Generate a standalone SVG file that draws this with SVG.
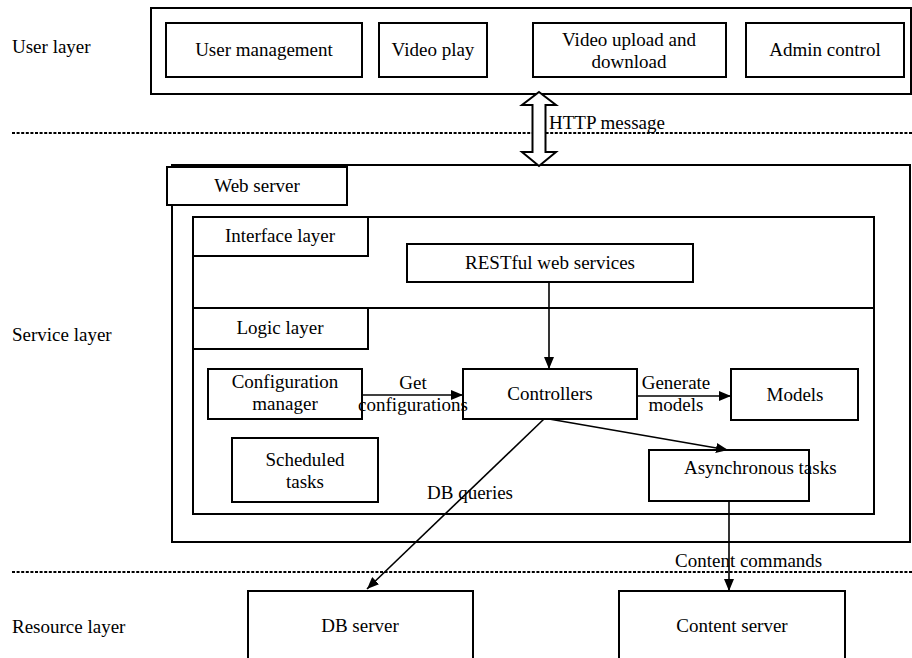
<svg xmlns="http://www.w3.org/2000/svg" width="912" height="658" viewBox="0 0 912 658" font-family="'Liberation Serif', 'Times New Roman', Times, 'DejaVu Serif', serif" font-size="19">
<defs>
<style>
text{font-family:'Liberation Serif','Times New Roman',Times,'DejaVu Serif',serif;font-size:19px;fill:#000}
.c{text-anchor:middle}
.box{fill:#fff;stroke:#000;stroke-width:2}
.ln{fill:none;stroke:#000;stroke-width:1.6}
.dot{stroke:#000;stroke-width:2.2;stroke-dasharray:3,1.6}
</style>
<marker id="ah" viewBox="0 0 12 10" refX="12" refY="5" markerWidth="12" markerHeight="10" markerUnits="userSpaceOnUse" orient="auto">
<path d="M0,0 L12,5 L0,10 Z" fill="#000"/>
</marker>
</defs>
<rect width="912" height="658" fill="#fff"/>

<g id="labels">
<text x="12" y="53">User layer</text>
<text x="12" y="341">Service layer</text>
<text x="12" y="633">Resource layer</text>
</g>

<line class="dot" x1="12" y1="133" x2="912" y2="133"/>
<line class="dot" x1="12" y1="572" x2="912" y2="572"/>

<g id="user-layer">
<rect class="box" x="151" y="8" width="760" height="86"/>
<g id="user-management"><rect class="box" x="166" y="23" width="196" height="54"/><text class="c" x="264" y="56">User management</text></g>
<g id="video-play"><rect class="box" x="379" y="23" width="108" height="54"/><text class="c" x="433" y="56">Video play</text></g>
<g id="video-upload"><rect class="box" x="533" y="23" width="193" height="54"/><text class="c" x="629" y="46">Video upload and</text><text class="c" x="629" y="68">download</text></g>
<g id="admin-control"><rect class="box" x="746" y="23" width="158" height="54"/><text class="c" x="825" y="56">Admin control</text></g>
</g>

<g id="web-server">
<rect class="box" x="172" y="165" width="738" height="377"/>
<rect class="box" x="167" y="167" width="180" height="38"/>
<text class="c" x="257" y="192">Web server</text>
</g>

<g id="interface-layer">
<rect class="box" x="193" y="217" width="681" height="297"/>
<line class="ln" x1="193" y1="308" x2="874" y2="308" style="stroke-width:2"/>
<rect class="box" x="193" y="217" width="175" height="39"/>
<text class="c" x="280" y="242">Interface layer</text>
</g>

<g id="restful"><rect class="box" x="407" y="244" width="286" height="38"/><text class="c" x="550" y="269">RESTful web services</text></g>

<g id="logic-layer"><rect class="box" x="193" y="308" width="175" height="41"/><text class="c" x="280" y="334">Logic layer</text></g>

<g id="config-manager"><rect class="box" x="208" y="369" width="154" height="50"/><text class="c" x="285" y="388">Configuration</text><text class="c" x="285" y="410">manager</text></g>
<g id="controllers"><rect class="box" x="463" y="369" width="174" height="50"/><text class="c" x="550" y="400">Controllers</text></g>
<g id="models"><rect class="box" x="731" y="369" width="127" height="51"/><text class="c" x="795" y="401">Models</text></g>
<g id="scheduled-tasks"><rect class="box" x="232" y="438" width="146" height="64"/><text class="c" x="305" y="466">Scheduled</text><text class="c" x="305" y="488">tasks</text></g>
<g id="async-tasks"><rect class="box" x="649" y="450" width="160" height="51"/><text x="684" y="474">Asynchronous tasks</text></g>

<g id="db-server"><rect class="box" x="248" y="591" width="225" height="70"/><text class="c" x="360" y="632">DB server</text></g>
<g id="content-server"><rect class="box" x="619" y="591" width="226" height="70"/><text class="c" x="732" y="632">Content server</text></g>

<g id="connectors">
<path d="M539,92 L556,105 L545.5,105 L545.5,152 L556,152 L539,166 L522,152 L532.5,152 L532.5,105 L522,105 Z" fill="#fff" stroke="#000" stroke-width="2"/>
<line class="ln" x1="549" y1="282" x2="549" y2="369" marker-end="url(#ah)"/>
<line class="ln" x1="362" y1="395" x2="463" y2="395" marker-end="url(#ah)"/>
<line class="ln" x1="637" y1="396" x2="731" y2="396" marker-end="url(#ah)"/>
<line class="ln" x1="549" y1="419" x2="728" y2="450" marker-end="url(#ah)"/>
<line class="ln" x1="544" y1="419" x2="367" y2="589" marker-end="url(#ah)"/>
<line class="ln" x1="729" y1="501" x2="729" y2="591" marker-end="url(#ah)"/>
<text x="549" y="129">HTTP message</text>
<text class="c" x="413" y="389">Get</text>
<text class="c" x="413" y="411">configurations</text>
<text class="c" x="676" y="389">Generate</text>
<text class="c" x="676" y="411">models</text>
<text x="427" y="499">DB queries</text>
<text x="675" y="567">Content commands</text>
</g>
</svg>
